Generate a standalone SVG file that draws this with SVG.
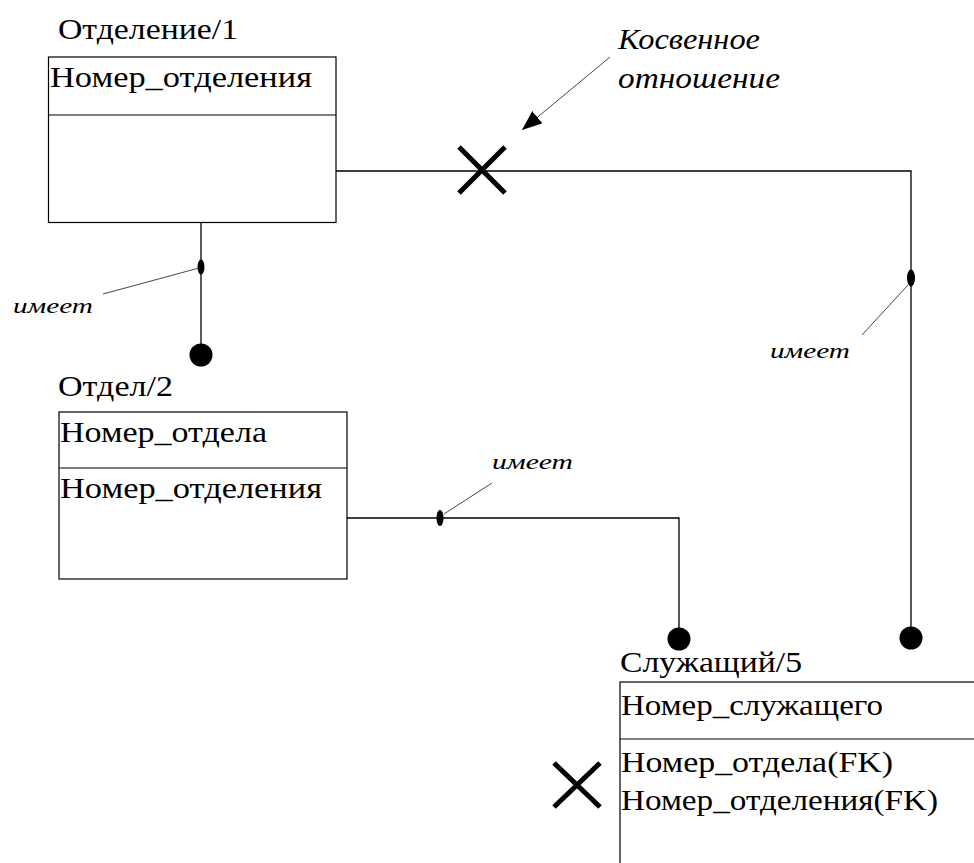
<svg xmlns="http://www.w3.org/2000/svg" width="974" height="863" viewBox="0 0 974 863" xml:lang="ru">
  <defs>
    <marker id="arrow" markerUnits="userSpaceOnUse" markerWidth="22" markerHeight="16" refX="20" refY="8" orient="auto">
      <path d="M0,0 L20,8 L0,16 Z" fill="#000"/>
    </marker>
  </defs>

  <!-- Entity: Отделение/1 -->
  <g id="otdelenie" font-family="Liberation Serif, Times New Roman, DejaVu Serif, serif" style="font-family: 'Liberation Serif', 'Times New Roman', 'DejaVu Serif', serif" font-size="29" fill="#000">
    <text x="58" y="39" textLength="180" lengthAdjust="spacingAndGlyphs">Отделение/1</text>
    <rect x="48.5" y="57" width="287.5" height="165.5" fill="#fff" stroke="#000" stroke-width="1.2"/>
    <line x1="48.5" y1="115" x2="336" y2="115" stroke="#000" stroke-width="1.2"/>
    <text x="50" y="87" textLength="262" lengthAdjust="spacingAndGlyphs">Номер_отделения</text>
  </g>

  <!-- Entity: Отдел/2 -->
  <g id="otdel" font-family="Liberation Serif, Times New Roman, DejaVu Serif, serif" style="font-family: 'Liberation Serif', 'Times New Roman', 'DejaVu Serif', serif" font-size="29" fill="#000">
    <text x="58" y="396" textLength="115" lengthAdjust="spacingAndGlyphs">Отдел/2</text>
    <rect x="59" y="412" width="288" height="167" fill="#fff" stroke="#000" stroke-width="1.2"/>
    <line x1="59" y1="468" x2="347" y2="468" stroke="#000" stroke-width="1.2"/>
    <text x="60" y="442" textLength="207" lengthAdjust="spacingAndGlyphs">Номер_отдела</text>
    <text x="60" y="498" textLength="262" lengthAdjust="spacingAndGlyphs">Номер_отделения</text>
  </g>

  <!-- Entity: Служащий/5 (runs off the right and bottom edges) -->
  <g id="sluzhashchiy" font-family="Liberation Serif, Times New Roman, DejaVu Serif, serif" style="font-family: 'Liberation Serif', 'Times New Roman', 'DejaVu Serif', serif" font-size="29" fill="#000">
    <text x="620" y="672" textLength="182" lengthAdjust="spacingAndGlyphs">Служащий/5</text>
    <rect x="620" y="682" width="380" height="220" fill="#fff" stroke="#000" stroke-width="1.2"/>
    <line x1="620" y1="739" x2="980" y2="739" stroke="#000" stroke-width="1.2"/>
    <text x="621" y="715" textLength="262" lengthAdjust="spacingAndGlyphs">Номер_служащего</text>
    <text x="621" y="772" textLength="272" lengthAdjust="spacingAndGlyphs">Номер_отдела(FK)</text>
    <text x="621" y="810" textLength="317" lengthAdjust="spacingAndGlyphs">Номер_отделения(FK)</text>
    <path d="M554,763 L600,807 M600,763 L554,807" fill="none" stroke="#000" stroke-width="5"/>
  </g>

  <!-- Relationships -->
  <g id="connectors" font-family="Liberation Serif, Times New Roman, DejaVu Serif, serif" style="font-family: 'Liberation Serif', 'Times New Roman', 'DejaVu Serif', serif" font-style="italic" fill="#000">
    <!-- relationship lines -->
    <g fill="none" stroke="#000" stroke-width="1.3">
      <polyline points="336,171 911,171 911,630"/>
      <line x1="201" y1="223" x2="201" y2="345"/>
      <polyline points="347,518 679,518 679,630"/>
    </g>
    <!-- "many" ends -->
    <circle cx="911" cy="638" r="11.5"/>
    <circle cx="201" cy="355" r="11.5"/>
    <circle cx="679" cy="639" r="11.5"/>
    <!-- label anchors -->
    <ellipse cx="911" cy="278" rx="4" ry="8.5"/>
    <ellipse cx="201" cy="267" rx="3.5" ry="7.5"/>
    <ellipse cx="440" cy="518" rx="3.5" ry="8"/>
    <!-- label leaders -->
    <g fill="none" stroke="#333" stroke-width="0.9">
      <line x1="908" y1="285" x2="862" y2="335"/>
      <line x1="199" y1="268" x2="103" y2="294"/>
      <line x1="444" y1="514" x2="492" y2="483"/>
      <line x1="610" y1="57" x2="522" y2="130" marker-end="url(#arrow)"/>
    </g>
    <!-- indirect relationship mark -->
    <path d="M459,147 L505,193 M505,147 L459,193" fill="none" stroke="#000" stroke-width="5"/>

    <text x="770" y="358" font-size="22" textLength="80" lengthAdjust="spacingAndGlyphs">имеет</text>
    <text x="13" y="313" font-size="22" textLength="80" lengthAdjust="spacingAndGlyphs">имеет</text>
    <text x="492" y="469" font-size="22" textLength="81" lengthAdjust="spacingAndGlyphs">имеет</text>
    <text x="618" y="49" font-size="30" textLength="142" lengthAdjust="spacingAndGlyphs">Косвенное</text>
    <text x="618" y="88" font-size="30" textLength="162" lengthAdjust="spacingAndGlyphs">отношение</text>
  </g>
</svg>
